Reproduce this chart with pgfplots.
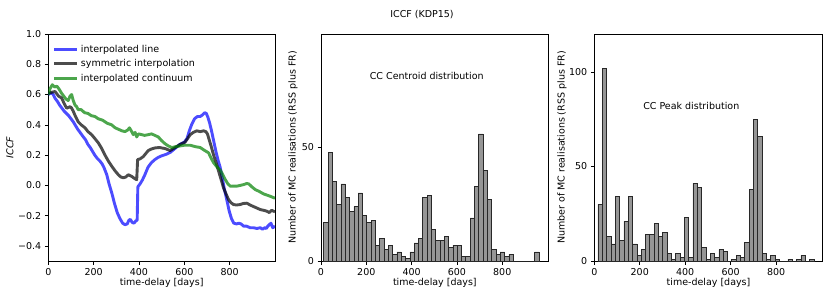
\documentclass[border=0pt]{standalone}
\usepackage{pgfplots}
\pgfplotsset{compat=1.18}
\usepackage{fontspec}
\setmainfont{DejaVu Sans}
\setsansfont{DejaVu Sans}
\definecolor{barfill}{RGB}{150,150,150}
\definecolor{baredge}{RGB}{40,40,40}
\definecolor{mplgreen}{RGB}{0,128,0}
\newcommand{\fs}{\fontsize{9.5}{11}\selectfont}
\pgfplotsset{
  myax/.style={
    scale only axis, height=227pt,
    axis line style={line width=0.6pt},
    tick align=outside, xtick pos=lower, ytick pos=left,
    major tick length=3.5pt,
    every tick/.style={black, line width=0.6pt},
    tick label style={font=\fs},
    label style={font=\fs},
    xmin=0,
    xtick={0,200,400,600,800},
    xticklabels={0,200,400,600,800},
    xlabel={time-delay [days]},
    xlabel style={at={(axis description cs:0.5,-0.097)}, anchor=center},
  },
}
\begin{document}
\begin{tikzpicture}
\useasboundingbox (0pt,0pt) rectangle (831pt,295pt);
\node[anchor=base, font=\fs] at (422pt,277.5pt) {ICCF (KDP15)};

% ---------------- left panel
\begin{axis}[myax, width=226.7pt, at={(48.3pt,34pt)}, anchor=south west,
  xmax=1000, ymin=-0.5, ymax=1.0,
  ytick={-0.4,-0.2,0,0.2,0.4,0.6,0.8,1.0},
  yticklabels={−0.4,−0.2,0.0,0.2,0.4,0.6,0.8,1.0},
  ylabel={\textit{ICCF}},
  ylabel style={at={(axis description cs:-0.169,0.5)}, anchor=center},
  legend style={draw=none, fill=none, inner sep=0pt, at={(axis description cs:0.02,0.962)}, anchor=north west, font=\fs, row sep=2pt, nodes={inner sep=2pt}},
  legend cell align=left,
  legend image code/.code={\draw[#1] (0pt,0pt) -- (23pt,0pt);},
  every axis plot/.append style={line width=2.9pt, line join=round, opacity=0.7},
]
\addplot[blue] coordinates {
(0,0.60) (10,0.61) (20,0.605) (30,0.575) (40,0.555) (50,0.53) (60,0.51) (70,0.49) (80,0.475) (90,0.46) (100,0.44) (110,0.42) (118,0.40) (130,0.37) (140,0.35) (152,0.325) (165,0.30) (175,0.27) (185,0.25) (195,0.225) (205,0.20) (215,0.18) (228,0.16) (238,0.14) (245,0.12) (258,0.07) (268,0.01) (280,-0.05) (292,-0.12) (304,-0.18) (316,-0.22) (328,-0.25) (338,-0.26) (348,-0.255) (356,-0.23) (362,-0.225) (370,-0.245) (378,-0.25) (386,-0.235) (392,-0.23) (395,-0.01) (405,0.01) (415,0.035) (426,0.07) (440,0.12) (455,0.15) (470,0.17) (485,0.185) (500,0.195) (520,0.205) (540,0.22) (560,0.245) (580,0.27) (600,0.285) (612,0.31) (622,0.36) (632,0.40) (645,0.44) (658,0.455) (670,0.455) (680,0.465) (690,0.48) (697,0.475) (704,0.45) (712,0.41) (720,0.36) (730,0.29) (740,0.22) (750,0.16) (758,0.12) (766,0.06) (776,-0.02) (788,-0.10) (798,-0.17) (808,-0.22) (818,-0.25) (830,-0.255) (840,-0.25) (850,-0.255) (862,-0.27) (875,-0.27) (890,-0.28) (905,-0.28) (920,-0.285) (935,-0.28) (945,-0.29) (955,-0.28) (962,-0.285) (968,-0.27) (975,-0.26) (982,-0.25) (990,-0.28) (1000,-0.27)
};
\addlegendentry{interpolated line}
\addplot[black] coordinates {
(0,0.607) (15,0.615) (30,0.62) (45,0.59) (59,0.577) (70,0.54) (81,0.51) (90,0.515) (96,0.52) (103,0.51) (110,0.49) (120,0.455) (132,0.42) (145,0.40) (162,0.38) (175,0.355) (191,0.335) (205,0.31) (221,0.28) (235,0.245) (250,0.20) (265,0.16) (280,0.126) (295,0.095) (309,0.07) (320,0.055) (331,0.05) (342,0.055) (353,0.07) (360,0.065) (368,0.059) (376,0.05) (382,0.044) (390,0.037) (394,0.17) (405,0.175) (419,0.19) (430,0.21) (441,0.23) (455,0.24) (470,0.247) (490,0.25) (515,0.243) (537,0.23) (560,0.25) (581,0.27) (603,0.285) (615,0.31) (626,0.335) (640,0.35) (655,0.36) (670,0.355) (685,0.36) (695,0.355) (702,0.34) (710,0.30) (720,0.25) (729,0.20) (740,0.15) (751,0.095) (762,0.04) (773,-0.017) (785,-0.06) (795,-0.094) (806,-0.115) (817,-0.127) (830,-0.13) (846,-0.127) (860,-0.12) (876,-0.118) (890,-0.13) (905,-0.14) (920,-0.15) (935,-0.16) (950,-0.165) (964,-0.171) (975,-0.18) (985,-0.165) (1000,-0.175)
};
\addlegendentry{symmetric interpolation}
\addplot[mplgreen] coordinates {
(0,0.60) (8,0.64) (18,0.665) (28,0.65) (38,0.655) (48,0.635) (58,0.61) (68,0.59) (78,0.57) (88,0.56) (96,0.59) (103,0.60) (110,0.56) (118,0.53) (125,0.52) (132,0.50) (145,0.50) (160,0.48) (175,0.475) (190,0.46) (206,0.455) (220,0.44) (240,0.43) (260,0.41) (279,0.40) (295,0.38) (310,0.37) (325,0.36) (338,0.355) (350,0.365) (358,0.38) (366,0.36) (375,0.335) (383,0.35) (390,0.32) (398,0.34) (412,0.335) (425,0.33) (441,0.335) (456,0.34) (470,0.33) (485,0.32) (500,0.295) (515,0.275) (530,0.26) (545,0.25) (560,0.255) (581,0.26) (600,0.265) (626,0.265) (650,0.255) (670,0.25) (690,0.23) (707,0.215) (718,0.18) (729,0.15) (745,0.12) (759,0.10) (770,0.07) (780,0.04) (792,0.01) (803,-0.006) (818,-0.005) (833,-0.005) (848,0.0) (862,0.005) (875,0.012) (884,0.01) (898,-0.01) (913,-0.028) (930,-0.04) (950,-0.057) (975,-0.07) (1000,-0.085)
};
\addlegendentry{interpolated continuum}
\end{axis}

% ---------------- middle panel
\begin{axis}[myax, width=227.7pt, at={(321pt,34pt)}, anchor=south west,
  xmax=1005, ymin=0, ymax=100,
  ytick={0,50}, yticklabels={0,50},
  ylabel={Number of MC realisations (RSS plus FR)},
  ylabel style={at={(axis description cs:-0.123,0.5)}, anchor=center},
]
\addplot[ybar interval, fill=barfill, draw=baredge, line width=0.6pt] coordinates {
(12,17) (31,48) (50,35) (69,25) (88,34) (107,28) (126,22) (145,24) (164,30) (183,20) (202,17) (221,18) (240,7) (259,10) (278,5) (297,7) (316,3) (335,4) (354,2) (373,1) (392,4) (411,8) (430,10) (449,28) (468,29) (487,14) (506,9) (525,9) (544,11) (563,6) (582,7) (601,7) (620,2) (639,2) (658,19) (677,33) (696,56) (715,40) (734,27) (753,5) (772,3) (791,4) (810,2) (829,3) (848,0) (867,0) (886,0) (905,0) (924,0) (943,4) (962,0)
};
\node[anchor=base west, font=\fs] at (axis cs:200,80) {CC Centroid distribution};
\end{axis}

% ---------------- right panel
\begin{axis}[myax, width=228.4pt, at={(594.3pt,34pt)}, anchor=south west,
  xmax=1005, ymin=0, ymax=120,
  ytick={0,50,100}, yticklabels={0,50,100},
  ylabel={Number of MC realisations (RSS plus FR)},
  ylabel style={at={(axis description cs:-0.141,0.5)}, anchor=center},
]
\addplot[ybar interval, fill=barfill, draw=baredge, line width=0.6pt] coordinates {
(16,30) (35,102) (54,13) (73,9) (92,34) (111,11) (130,21) (149,34) (168,9) (187,3) (206,6) (225,14) (244,14) (263,20) (282,13) (301,15) (320,4) (339,1) (358,4) (377,2) (396,23) (415,2) (434,41) (453,39) (472,7) (491,1) (510,4) (529,2) (548,6) (567,5) (586,0) (605,1) (624,3) (643,2) (662,10) (681,38) (700,75) (719,66) (738,4) (757,1) (776,3) (795,1) (814,0) (833,0) (852,1) (871,0) (890,1) (909,3) (928,0) (947,1) (966,0)
};
\node[anchor=base west, font=\fs] at (axis cs:200,80) {CC Peak distribution};
\end{axis}
\end{tikzpicture}
\end{document}
